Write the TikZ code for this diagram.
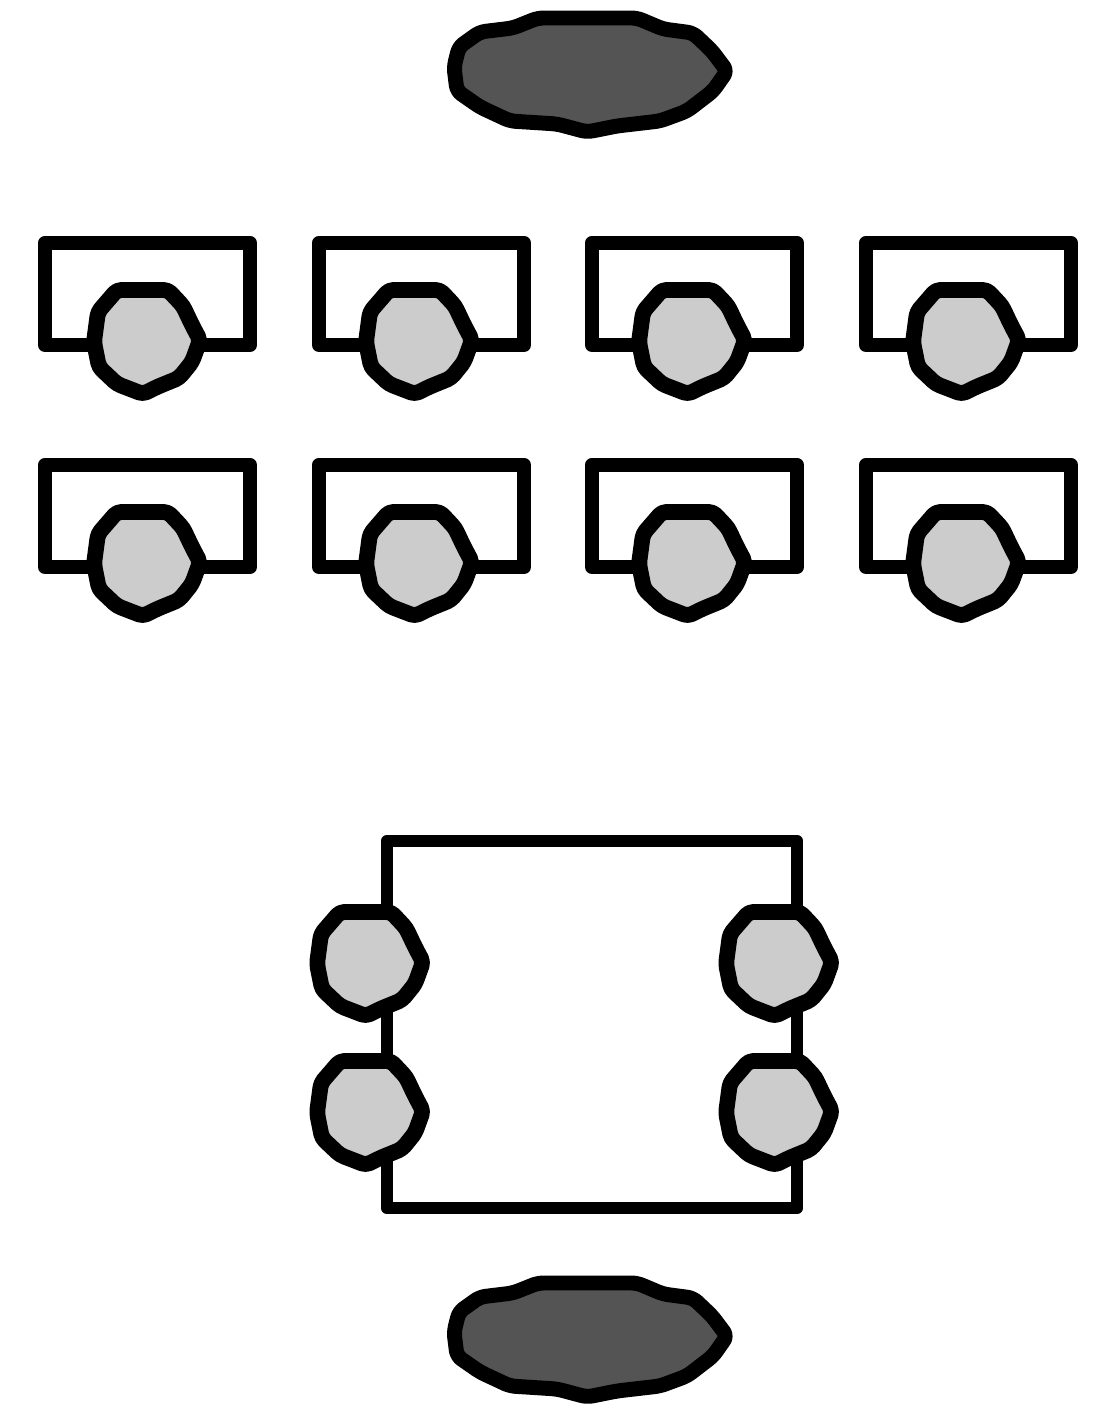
\documentclass[tikz,border=0pt]{standalone}
\tikzset{
  deskbox/.style={draw=black, line width=10.2pt, line join=round},
  tablebox/.style={draw=black, line width=9pt, line join=round},
  seatdot/.pic={\filldraw[fill=black!20, draw=black, line width=11.4pt, line join=round, rounded corners=3pt]
    (-0.30,0.50) -- (0.21,0.50) -- (0.36,0.34) -- (0.45,0.15) -- (0.53,0.00) -- (0.45,-0.22) -- (0.32,-0.38)
    -- (0.10,-0.47) -- (-0.04,-0.54) -- (-0.30,-0.44) -- (-0.48,-0.27) -- (-0.53,-0.02) -- (-0.49,0.28) -- cycle;},
  boardoval/.pic={\filldraw[fill=black!67, draw=black, line width=10.8pt, line join=round, rounded corners=4pt]
    (-1.34,0.04) -- (-1.29,0.24) -- (-1.08,0.39) -- (-0.75,0.43) -- (-0.50,0.53) -- (0.49,0.53)
    -- (0.75,0.42) -- (1.05,0.38) -- (1.24,0.20) -- (1.39,0.00) -- (1.25,-0.20) -- (0.99,-0.40)
    -- (0.72,-0.50) -- (0.29,-0.55) -- (-0.01,-0.61) -- (-0.31,-0.53) -- (-0.78,-0.50)
    -- (-1.08,-0.36) -- (-1.31,-0.20) -- cycle;}
}
\begin{document}
\begin{tikzpicture}[x=1in,y=1in]
\useasboundingbox (0,0) rectangle (11.0700,14.0700);
% boards
\pic at (5.8800,13.3600) {boardoval};
\pic at (5.8800,0.7100) {boardoval};
% desks, back row
\draw[deskbox] (0.4500,10.6200) rectangle (2.5000,11.6400);
\draw[deskbox] (3.1900,10.6200) rectangle (5.2400,11.6400);
\draw[deskbox] (5.9200,10.6200) rectangle (7.9700,11.6400);
\draw[deskbox] (8.6600,10.6200) rectangle (10.7100,11.6400);
\pic at (1.4700,10.6700) {seatdot};
\pic at (4.1900,10.6700) {seatdot};
\pic at (6.9200,10.6700) {seatdot};
\pic at (9.6600,10.6700) {seatdot};
% desks, front row
\draw[deskbox] (0.4500,8.4000) rectangle (2.5000,9.4200);
\draw[deskbox] (3.1900,8.4000) rectangle (5.2400,9.4200);
\draw[deskbox] (5.9200,8.4000) rectangle (7.9700,9.4200);
\draw[deskbox] (8.6600,8.4000) rectangle (10.7100,9.4200);
\pic at (1.4700,8.4500) {seatdot};
\pic at (4.1900,8.4500) {seatdot};
\pic at (6.9200,8.4500) {seatdot};
\pic at (9.6600,8.4500) {seatdot};
% table
\draw[tablebox] (3.8700,1.9900) rectangle (7.9700,5.6600);
\pic at (3.7000,4.4500) {seatdot};
\pic at (3.7000,2.9600) {seatdot};
\pic at (7.7900,4.4500) {seatdot};
\pic at (7.7900,2.9600) {seatdot};
\end{tikzpicture}
\end{document}
